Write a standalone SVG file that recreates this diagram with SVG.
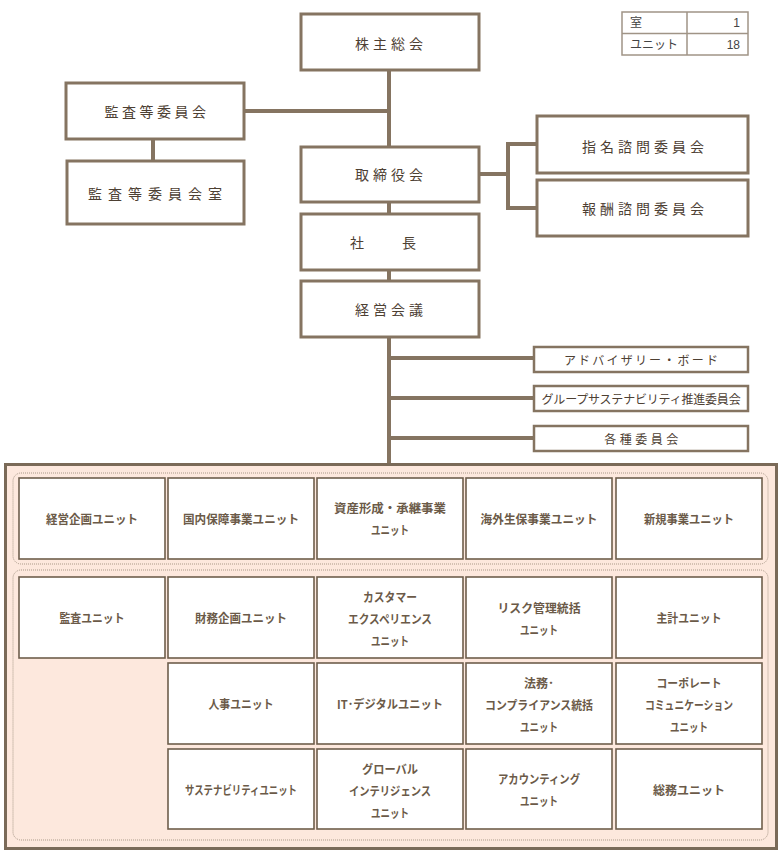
<svg xmlns="http://www.w3.org/2000/svg" width="780" height="851" viewBox="0 0 780 851">
<style>
.n{fill:#fff;stroke:#857461;stroke-width:3}
.s{fill:#fff;stroke:#857461;stroke-width:2.5}
.u{fill:#fff;stroke:#6e5e4c;stroke-width:1.6}
.c{stroke:#857461;stroke-width:4;fill:none}
.t{font-family:"Noto Sans CJK JP","Noto Sans",sans-serif;font-size:14px;fill:#4d4033;text-anchor:middle;dominant-baseline:central}
.ts{font-family:"Noto Sans CJK JP","Noto Sans",sans-serif;font-size:12px;fill:#4d4033;text-anchor:middle;dominant-baseline:central}
.tu{font-family:"Noto Sans CJK JP","Noto Sans",sans-serif;font-size:12px;font-weight:bold;fill:#6b5a48;text-anchor:middle;dominant-baseline:central}
.tl{font-family:"Liberation Sans","Noto Sans CJK JP",sans-serif;font-size:12px;fill:#444;dominant-baseline:central}
.g{fill:none;stroke:#a89888;stroke-width:1;stroke-dasharray:1 1}
</style>
<rect width="780" height="851" fill="#fff"/>
<g id="connectors">
<path class="c" d="M389 70V463"/>
<path class="c" d="M245 111H389"/>
<path class="c" d="M153 139V161"/>
<path class="c" d="M479 174H508M508 144V208M506 144H537M506 208H537"/>
<path class="c" d="M389 358H534M389 398H534M389 438H534"/>
</g>
<g id="legend">
<rect x="622" y="12" width="126" height="43" fill="#fff" stroke="#a09486" stroke-width="1.5"/>
<path d="M687 12V55M622 33.5H748" stroke="#a09486" stroke-width="1.5"/>
<text class="tl" x="630" y="23">室</text>
<text class="tl" x="740" y="23" text-anchor="end">1</text>
<text class="tl" x="630" y="44.5">ユニット</text>
<text class="tl" x="740" y="44.5" text-anchor="end">18</text>
</g>
<g id="n-kabunushi"><rect class="n" x="301" y="14" width="178" height="56"/><text class="t" x="391" y="43" letter-spacing="4">株主総会</text></g>
<g id="n-kansa"><rect class="n" x="66" y="83" width="178" height="56"/><text class="t" x="157" y="111" letter-spacing="3.5">監査等委員会</text></g>
<g id="n-kansashitsu"><rect class="n" x="67" y="161" width="177" height="63"/><text class="t" x="158" y="193" letter-spacing="6">監査等委員会室</text></g>
<g id="n-torishimari"><rect class="n" x="301" y="147" width="178" height="55"/><text class="t" x="391" y="174" letter-spacing="4">取締役会</text></g>
<g id="n-shacho"><rect class="n" x="301" y="214" width="178" height="56"/><text class="t" x="389" y="242" letter-spacing="12">社　長</text></g>
<g id="n-keiei"><rect class="n" x="301" y="281" width="178" height="56"/><text class="t" x="391" y="309" letter-spacing="4">経営会議</text></g>
<g id="n-shimei"><rect class="n" x="537" y="116" width="211" height="57"/><text class="t" x="645" y="146" letter-spacing="4">指名諮問委員会</text></g>
<g id="n-hoshu"><rect class="n" x="537" y="180" width="211" height="56"/><text class="t" x="645" y="208" letter-spacing="4">報酬諮問委員会</text></g>
<g id="n-advisory"><rect class="s" x="534" y="347" width="214" height="25"/><text class="ts" x="642" y="359.5" letter-spacing="2.2">アドバイザリー・ボード</text></g>
<g id="n-sustain"><rect class="s" x="534" y="386" width="214" height="25"/><text class="ts" x="641" y="398.5" letter-spacing="-0.2">グループサステナビリティ推進委員会</text></g>
<g id="n-kakushu"><rect class="s" x="534" y="426" width="214" height="25"/><text class="ts" x="643" y="438.5" letter-spacing="3.5">各種委員会</text></g>
<g id="units-frame">
<rect x="5.5" y="464.5" width="771" height="384" fill="#fde8dd" stroke="#7a6a58" stroke-width="3"/>
<rect x="13" y="473" width="755" height="91" rx="8" class="g"/>
<rect x="13" y="570" width="755" height="270" rx="8" class="g"/>
</g>
<g id="u1"><rect class="u" x="19" y="478" width="146" height="81"/><text class="tu" x="92" y="518.5" textLength="92" lengthAdjust="spacingAndGlyphs">経営企画ユニット</text></g>
<g id="u2"><rect class="u" x="168" y="478" width="146" height="81"/><text class="tu" x="241" y="518.5" textLength="116" lengthAdjust="spacingAndGlyphs">国内保障事業ユニット</text></g>
<g id="u3"><rect class="u" x="317" y="478" width="146" height="81"/><text class="tu" x="390" y="507.5" textLength="112" lengthAdjust="spacingAndGlyphs">資産形成・承継事業</text><text class="tu" x="390" y="529.5" textLength="38" lengthAdjust="spacingAndGlyphs">ユニット</text></g>
<g id="u4"><rect class="u" x="466" y="478" width="146" height="81"/><text class="tu" x="539" y="518.5" textLength="117" lengthAdjust="spacingAndGlyphs">海外生保事業ユニット</text></g>
<g id="u5"><rect class="u" x="616" y="478" width="146" height="81"/><text class="tu" x="689" y="518.5" textLength="90" lengthAdjust="spacingAndGlyphs">新規事業ユニット</text></g>
<g id="u6"><rect class="u" x="19" y="577" width="146" height="81"/><text class="tu" x="92" y="617.5" textLength="65" lengthAdjust="spacingAndGlyphs">監査ユニット</text></g>
<g id="u7"><rect class="u" x="168" y="577" width="146" height="81"/><text class="tu" x="241" y="617.5" textLength="92" lengthAdjust="spacingAndGlyphs">財務企画ユニット</text></g>
<g id="u8"><rect class="u" x="317" y="577" width="146" height="81"/><text class="tu" x="390" y="596.5" textLength="54" lengthAdjust="spacingAndGlyphs">カスタマー</text><text class="tu" x="390" y="618.5" textLength="84" lengthAdjust="spacingAndGlyphs">エクスペリエンス</text><text class="tu" x="390" y="640.5" textLength="38" lengthAdjust="spacingAndGlyphs">ユニット</text></g>
<g id="u9"><rect class="u" x="466" y="577" width="146" height="81"/><text class="tu" x="539" y="607" textLength="83" lengthAdjust="spacingAndGlyphs">リスク管理統括</text><text class="tu" x="539" y="629" textLength="38" lengthAdjust="spacingAndGlyphs">ユニット</text></g>
<g id="u10"><rect class="u" x="616" y="577" width="146" height="81"/><text class="tu" x="689" y="617.5" textLength="65" lengthAdjust="spacingAndGlyphs">主計ユニット</text></g>
<g id="u11"><rect class="u" x="168" y="663" width="146" height="81"/><text class="tu" x="241" y="703.5" textLength="65" lengthAdjust="spacingAndGlyphs">人事ユニット</text></g>
<g id="u12"><rect class="u" x="317" y="663" width="146" height="81"/><text class="tu" x="390" y="703.5" textLength="106" lengthAdjust="spacingAndGlyphs">IT･デジタルユニット</text></g>
<g id="u13"><rect class="u" x="466" y="663" width="146" height="81"/><text class="tu" x="539" y="682.5">法務･</text><text class="tu" x="539" y="704.5" textLength="108" lengthAdjust="spacingAndGlyphs">コンプライアンス統括</text><text class="tu" x="539" y="726.5" textLength="38" lengthAdjust="spacingAndGlyphs">ユニット</text></g>
<g id="u14"><rect class="u" x="616" y="663" width="146" height="81"/><text class="tu" x="689" y="682.5" textLength="65" lengthAdjust="spacingAndGlyphs">コーポレート</text><text class="tu" x="689" y="704.5" textLength="88" lengthAdjust="spacingAndGlyphs">コミュニケーション</text><text class="tu" x="689" y="726.5" textLength="38" lengthAdjust="spacingAndGlyphs">ユニット</text></g>
<g id="u15"><rect class="u" x="168" y="749" width="146" height="80"/><text class="tu" x="241" y="789" textLength="112" lengthAdjust="spacingAndGlyphs">サステナビリティユニット</text></g>
<g id="u16"><rect class="u" x="317" y="749" width="146" height="80"/><text class="tu" x="390" y="768" textLength="56" lengthAdjust="spacingAndGlyphs">グローバル</text><text class="tu" x="390" y="790" textLength="82" lengthAdjust="spacingAndGlyphs">インテリジェンス</text><text class="tu" x="390" y="812" textLength="38" lengthAdjust="spacingAndGlyphs">ユニット</text></g>
<g id="u17"><rect class="u" x="466" y="749" width="146" height="80"/><text class="tu" x="539" y="778" textLength="82" lengthAdjust="spacingAndGlyphs">アカウンティング</text><text class="tu" x="539" y="800" textLength="38" lengthAdjust="spacingAndGlyphs">ユニット</text></g>
<g id="u18"><rect class="u" x="616" y="749" width="146" height="80"/><text class="tu" x="689" y="789" textLength="72" lengthAdjust="spacingAndGlyphs">総務ユニット</text></g>
</svg>
